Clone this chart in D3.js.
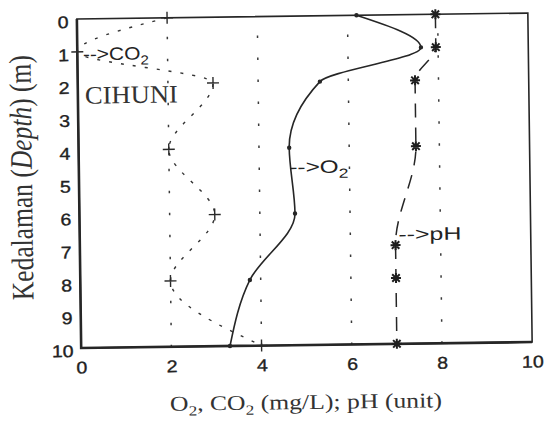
<!DOCTYPE html>
<html>
<head>
<meta charset="utf-8">
<script src="https://cdn.jsdelivr.net/npm/d3@7"></script>
<style>
  html, body { margin: 0; padding: 0; background: #fff; }
  svg { display: block; }
  .tick text { font-family: "Liberation Sans", Arial, sans-serif; font-size: 17px; fill: #222;
    stroke: #222; stroke-width: 0.35;
    transform-box: fill-box; transform-origin: center; transform: scaleX(1.15); }
  .serif { font-family: "Liberation Serif", "Times New Roman", serif; fill: #333; }
  .sans { font-family: "Liberation Sans", Arial, sans-serif; fill: #222; }
</style>
</head>
<body>
<div id="chart"></div>
<script>
(function(){
  'use strict';

  // data
  var depths = [0, 1, 2, 4, 6, 8, 10];
  var o2Values = [6.2, 7.62, 5.37, 4.67, 4.78, 3.76, 3.3];
  var co2Values = [2, 0, 3, 2, 3, 2, 4];
  var phDepths = [0, 1, 2, 4, 7, 8, 10];
  var phValues = [7.95, 7.95, 7.48, 7.48, 7.0, 7.0, 7.0];
  var xTicks = [0, 2, 4, 6, 8, 10];
  var yTicks = [0, 1, 2, 3, 4, 5, 6, 7, 8, 9, 10];
  var gridValues = [2, 4, 6, 8];

  var w = 545, h = 424, ink = '#262626';

  var svg = d3.select('#chart').append('svg')
    .attr('width', w)
    .attr('height', h);

  // the scan is tilted a little, so the whole chart is too
  var g = svg.append('g')
    .attr('transform', 'rotate(-0.75, 305, 180)');

  var x = d3.scaleLinear().domain([0, 10]).range([79, 530]);
  var y = d3.scaleLinear().domain([0, 10]).range([16, 345]);

  // dotted grid
  g.selectAll('.grid')
    .data(gridValues)
    .enter()
    .append('line')
    .attr('class', 'grid')
    .attr('x1', function(d) { return x(d); })
    .attr('x2', function(d) { return x(d); })
    .attr('y1', y(0))
    .attr('y2', y(10))
    .style('stroke', '#3a3a3a')
    .style('stroke-width', 1.5)
    .style('stroke-dasharray', '2.5,19.5')
    .style('stroke-dashoffset', 3);

  // axes (labels only, frame drawn by hand)
  var xAxis = d3.axisBottom(x).tickValues(xTicks).tickSize(0).tickPadding(0);
  var yAxis = d3.axisLeft(y).tickValues(yTicks).tickSize(0).tickPadding(0);

  var gx = g.append('g')
    .attr('transform', 'translate(0,' + y(10) + ')')
    .call(xAxis);
  gx.select('.domain').remove();
  gx.selectAll('text').attr('y', 25.5).attr('dy', 0);

  var gy = g.append('g')
    .attr('transform', 'translate(' + x(0) + ',0)')
    .call(yAxis);
  gy.select('.domain').remove();
  gy.selectAll('text').attr('x', -9).attr('dy', 8.5);

  // frame
  g.append('rect')
    .attr('x', x(0))
    .attr('y', y(0))
    .attr('width', x(10) - x(0))
    .attr('height', y(10) - y(0))
    .style('fill', 'none')
    .style('stroke', ink)
    .style('stroke-width', 1.6);
  g.append('path')
    .attr('d', 'M' + x(0) + ',' + y(0) + 'V' + y(10) + 'H' + x(10))
    .style('fill', 'none')
    .style('stroke', ink)
    .style('stroke-width', 2.6);

  function pts(ds, vs) {
    return ds.map(function(d, i) { return {d: d, v: vs[i]}; });
  }
  var o2Pts = pts(depths, o2Values),
      co2Pts = pts(depths, co2Values),
      phPts = pts(phDepths, phValues);

  var line = d3.line()
    .x(function(d) { return x(d.v); })
    .y(function(d) { return y(d.d); })
    .curve(d3.curveMonotoneY);

  g.append('path')
    .datum(co2Pts)
    .attr('d', line)
    .style('fill', 'none')
    .style('stroke', '#333')
    .style('stroke-width', 1.4)
    .style('stroke-dasharray', '3,9');

  g.append('path')
    .datum(o2Pts)
    .attr('d', line)
    .style('fill', 'none')
    .style('stroke', ink)
    .style('stroke-width', 1.6);

  g.append('path')
    .datum(phPts)
    .attr('d', line)
    .style('fill', 'none')
    .style('stroke', ink)
    .style('stroke-width', 1.5)
    .style('stroke-dasharray', '14,10');

  // markers
  var plusType = {draw: function(ctx, size) {
    var r = Math.sqrt(size) / 2;
    ctx.moveTo(-r, 0); ctx.lineTo(r, 0);
    ctx.moveTo(0, -r); ctx.lineTo(0, r);
  }};
  var starType = {draw: function(ctx, size) {
    var r = Math.sqrt(size) / 2, t = r * 0.75;
    ctx.moveTo(-r, 0); ctx.lineTo(r, 0);
    ctx.moveTo(0, -r); ctx.lineTo(0, r);
    ctx.moveTo(-t, -t); ctx.lineTo(t, t);
    ctx.moveTo(-t, t); ctx.lineTo(t, -t);
  }};

  g.selectAll('.co2mark')
    .data(co2Pts)
    .enter()
    .append('path')
    .attr('class', 'co2mark')
    .attr('transform', function(d) { return 'translate(' + x(d.v) + ',' + y(d.d) + ')'; })
    .attr('d', d3.symbol().type(plusType).size(144))
    .style('fill', 'none')
    .style('stroke', '#2a2a2a')
    .style('stroke-width', 1.4);

  g.selectAll('.phmark')
    .data(phPts)
    .enter()
    .append('path')
    .attr('class', 'phmark')
    .attr('transform', function(d) { return 'translate(' + x(d.v) + ',' + y(d.d) + ')'; })
    .attr('d', d3.symbol().type(starType).size(100))
    .style('fill', 'none')
    .style('stroke', '#1e1e1e')
    .style('stroke-width', 2);

  g.selectAll('.o2mark')
    .data(o2Pts)
    .enter()
    .append('circle')
    .attr('class', 'o2mark')
    .attr('cx', function(d) { return x(d.v); })
    .attr('cy', function(d) { return y(d.d); })
    .attr('r', 2.2)
    .style('fill', ink);

  // series labels
  function arrowLabel(px, py, name, len) {
    var t = g.append('text')
      .attr('class', 'sans')
      .attr('x', px)
      .attr('y', py)
      .attr('textLength', len)
      .attr('lengthAdjust', 'spacingAndGlyphs')
      .style('font-size', '18px');
    t.append('tspan').text('-->' + name);
    return t;
  }
  var tc = arrowLabel(x(0) + 5.5, y(1) + 8.5, 'CO', 66);
  tc.append('tspan').attr('dy', 5).style('font-size', '13px').text('2');
  var to = arrowLabel(x(4.67), y(4) + 25.5, 'O', 59);
  to.append('tspan').attr('dy', 5).style('font-size', '13px').text('2');
  arrowLabel(x(7) + 3, y(7) - 4.7, 'pH', 63);

  g.append('text')
    .attr('class', 'serif')
    .attr('x', x(0) + 7)
    .attr('y', y(2) + 19)
    .attr('textLength', 93)
    .attr('lengthAdjust', 'spacingAndGlyphs')
    .style('font-size', '25px')
    .text('CIHUNI');

  // axis titles
  var xt = g.append('text')
    .attr('class', 'serif')
    .attr('x', 167)
    .attr('y', 409)
    .attr('textLength', 272)
    .attr('lengthAdjust', 'spacingAndGlyphs')
    .style('font-size', '21px');
  xt.append('tspan').text('O');
  xt.append('tspan').attr('dy', 5).style('font-size', '14px').text('2');
  xt.append('tspan').attr('dy', -5).text(', CO');
  xt.append('tspan').attr('dy', 5).style('font-size', '14px').text('2');
  xt.append('tspan').attr('dy', -5).text(' (mg/L); pH (unit)');

  var yt = g.append('text')
    .attr('class', 'serif')
    .attr('text-anchor', 'middle')
    .attr('transform', 'translate(32,174) scale(1.3,1) rotate(-90)')
    .attr('textLength', 245)
    .attr('lengthAdjust', 'spacingAndGlyphs')
    .style('font-size', '24px');
  yt.append('tspan').text('Kedalaman (');
  yt.append('tspan').style('font-style', 'italic').text('Depth');
  yt.append('tspan').text(') (m)');

}());
</script>
</body>
</html>
